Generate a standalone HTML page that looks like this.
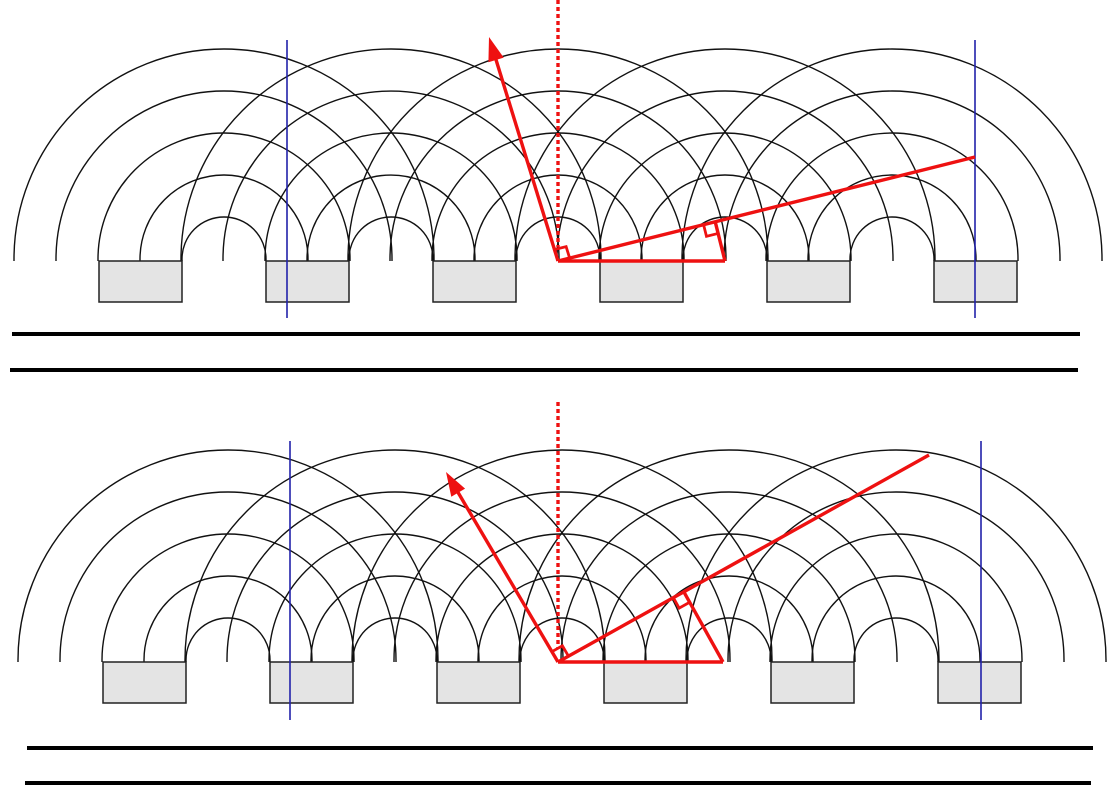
<!DOCTYPE html>
<html><head><meta charset="utf-8"><style>
html,body{margin:0;padding:0;background:#fff;width:1115px;height:803px;overflow:hidden}
svg{display:block}
</style></head><body>
<svg id="fig" width="1115" height="803" viewBox="0 0 1115 803" xmlns="http://www.w3.org/2000/svg"></svg>
<script>
// panel parameters (data)
const panelBaseY = [261, 662];
const slitCount = [5, 5];
const wavelengthRadii = [42, 84, 126, 168, 210];
const slitPitch = 167;
const firstSlitX = [224, 228];
const originX = [558, 558];
const vertexX = [725, 723];
const rayEnds = [[975, 157], [929, 455]];
const arrowTips = [[489, 37], [446, 472]];
const blueLinesX = [[287, 975], [290, 981]];
const blueLinesY = [[40, 318], [441, 720]];
const dottedTop = [0, 402];
const groundLines = [[334, 12, 1080], [370, 10, 1078], [748, 27, 1093], [783, 25, 1091]];

const svg = document.getElementById('fig');
const NS = 'http://www.w3.org/2000/svg';
function mk(tag, attrs, name) {
  const e = document.createElementNS(NS, tag);
  for (const k in attrs) e.setAttribute(k, attrs[k]);
  
  
  svg.appendChild(e);
  return e;
}
const RED = '#ee1111', RW = 3.4;

for (let p = 0; p < 2; p++) {
  const y0 = panelBaseY[p];
  const srcs = [];
  for (let i = 0; i < slitCount[p]; i++) srcs.push(firstSlitX[p] + i * slitPitch);
  srcs.forEach((cx) => {
    wavelengthRadii.forEach((r) => {
      mk('path', {d: `M${cx - r},${y0} L${cx - r},${y0 - 2} A${r},${r} 0 0 1 ${cx + r},${y0 - 2} L${cx + r},${y0}`, fill: 'none', stroke: '#111', 'stroke-width': 1.4}, 'wave-arc');
    });
  });
  for (let i = 0; i <= slitCount[p]; i++) {
    const cx = srcs[0] - slitPitch / 2 + i * slitPitch;
    mk('rect', {x: cx - 41.5, y: y0, width: 83, height: 41, fill: '#e4e4e4', stroke: '#222', 'stroke-width': 1.5}, 'grating-block');
  }
  blueLinesX[p].forEach((bx) => {
    mk('line', {x1: bx, y1: blueLinesY[p][0], x2: bx, y2: blueLinesY[p][1], stroke: '#2222aa', 'stroke-width': 1.6}, 'blue-reference-line');
  });
  const ox = originX[p], oy = y0;
  mk('line', {x1: ox, y1: dottedTop[p], x2: ox, y2: oy - 14, stroke: RED, 'stroke-width': 3.4, 'stroke-dasharray': '4,3'}, 'normal-dotted-line');
  const ex = rayEnds[p][0], ey = rayEnds[p][1];
  const L = Math.hypot(ex - ox, ey - oy);
  const ux = (ex - ox) / L, uy = (ey - oy) / L;
  mk('line', {x1: ox, y1: oy, x2: ex, y2: ey, stroke: RED, 'stroke-width': RW}, 'wavefront-line');
  const tx = arrowTips[p][0], ty = arrowTips[p][1];
  const al = Math.hypot(tx - ox, ty - oy);
  const ax = (tx - ox) / al, ay = (ty - oy) / al;
  const nx = -ay, ny = ax;
  mk('line', {x1: ox, y1: oy, x2: ox + ax * (al - 16), y2: oy + ay * (al - 16), stroke: RED, 'stroke-width': RW}, 'direction-arrow-shaft');
  const bx = tx - ax * 24, by = ty - ay * 24;
  mk('polygon', {points: `${tx},${ty} ${bx + nx * 8},${by + ny * 8} ${bx - nx * 8},${by - ny * 8}`, fill: RED}, 'direction-arrow-head');
  const px = vertexX[p], py = y0;
  const proj = (px - ox) * ux + (py - oy) * uy;
  const fx = ox + ux * proj, fy = oy + uy * proj;
  mk('line', {x1: ox, y1: oy, x2: px, y2: py, stroke: RED, 'stroke-width': RW}, 'slit-spacing-line');
  mk('line', {x1: px, y1: py, x2: fx, y2: fy, stroke: RED, 'stroke-width': RW}, 'path-difference-line');
  const a = 12;
  mk('polyline', {points: `${ox + ax * a},${oy + ay * a} ${ox + ax * a + ux * a},${oy + ay * a + uy * a} ${ox + ux * a},${oy + uy * a}`, fill: 'none', stroke: RED, 'stroke-width': 2.8}, 'right-angle-mark');
  const ql = Math.hypot(px - fx, py - fy);
  const qx = (px - fx) / ql, qy = (py - fy) / ql;
  mk('polyline', {points: `${fx - ux * a},${fy - uy * a} ${fx - ux * a + qx * a},${fy - uy * a + qy * a} ${fx + qx * a},${fy + qy * a}`, fill: 'none', stroke: RED, 'stroke-width': 2.8}, 'right-angle-mark');
}
groundLines.forEach((g) => {
  mk('line', {x1: g[1], y1: g[0], x2: g[2], y2: g[0], stroke: '#000', 'stroke-width': 4}, 'separator-line');
});
</script>
</body></html>
